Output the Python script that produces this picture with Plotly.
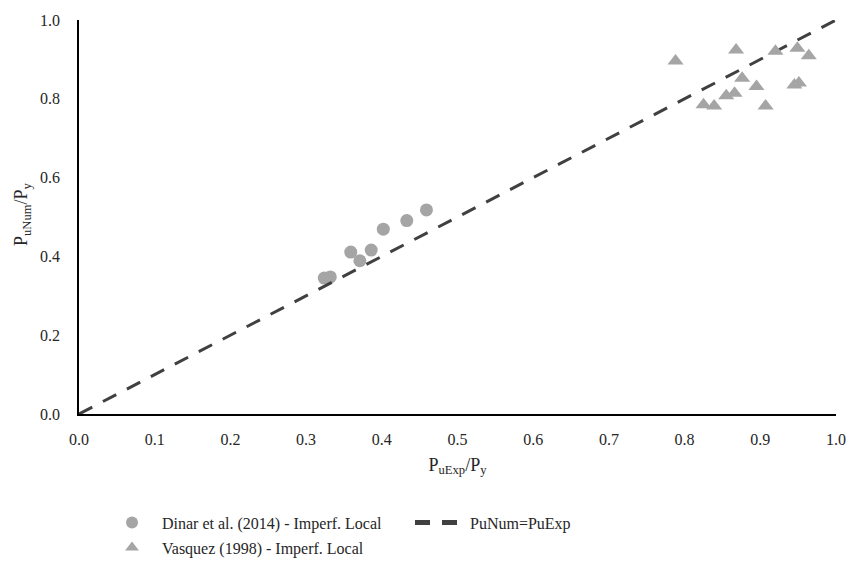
import plotly.graph_objects as go

# Dinar et al. (2014) - Imperf. Local
dinar_x = [0.324, 0.332, 0.359, 0.371, 0.386, 0.402, 0.433, 0.459]
dinar_y = [0.345, 0.348, 0.411, 0.389, 0.416, 0.469, 0.491, 0.518]

# Vasquez (1998) - Imperf. Local
vasq_x = [0.788, 0.868, 0.920, 0.949, 0.964, 0.876, 0.895, 0.866, 0.855, 0.825, 0.839, 0.907, 0.945, 0.951]
vasq_y = [0.896, 0.924, 0.921, 0.928, 0.909, 0.852, 0.831, 0.814, 0.808, 0.785, 0.782, 0.782, 0.835, 0.840]

# PuNum = PuExp reference line
line_x = [0.0, 1.0]
line_y = [0.0, 1.0]

x_ticks = [0.0, 0.1, 0.2, 0.3, 0.4, 0.5, 0.6, 0.7, 0.8, 0.9, 1.0]
y_ticks = [0.0, 0.2, 0.4, 0.6, 0.8, 1.0]

FONT = "Liberation Serif"
GRAY = "#A5A5A5"
TXT = "#262626"

fig = go.Figure()
fig.add_trace(go.Scatter(
    x=dinar_x, y=dinar_y, mode="markers",
    name="Dinar et al. (2014) - Imperf. Local",
    marker=dict(symbol="circle", size=13, color=GRAY),
    legend="legend",
))
fig.add_trace(go.Scatter(
    x=line_x, y=line_y, mode="lines",
    name="PuNum=PuExp",
    line=dict(color="#404040", width=3, dash="15px,12px"),
    legend="legend",
))
fig.add_trace(go.Scatter(
    x=vasq_x, y=vasq_y, mode="markers",
    name="Vasquez (1998) - Imperf. Local",
    marker=dict(symbol="triangle-up", size=14, color=GRAY),
    legend="legend2",
))

leg_common = dict(
    orientation="h", x=0.0304, xanchor="left", yanchor="top", yref="container",
    entrywidth=243, entrywidthmode="pixels", itemwidth=50,
    font=dict(family=FONT, size=16, color=TXT),
    itemsizing="constant", bgcolor="rgba(0,0,0,0)",
)

fig.update_layout(
    width=848, height=568,
    margin=dict(l=79, r=12, t=20, b=154, autoexpand=False),
    paper_bgcolor="white", plot_bgcolor="white",
    font=dict(family=FONT, size=16, color=TXT),
    showlegend=True,
    legend=dict(y=0.110, **leg_common),
    legend2=dict(y=0.066, **leg_common),
    xaxis=dict(
        range=[0, 1.0], tickvals=x_ticks, ticktext=[f"{v:.1f}" for v in x_ticks],
        showgrid=False, zeroline=False, showline=True, linecolor="black", linewidth=1.5,
        ticks="outside", ticklen=10, tickcolor="rgba(0,0,0,0)", automargin=False,
        tickfont=dict(family=FONT, size=16, color=TXT),
        title=dict(text="P<sub>uExp</sub>/P<sub>y</sub>", font=dict(size=18, family=FONT, color=TXT), standoff=11),
    ),
    yaxis=dict(
        range=[0, 1.0], tickvals=y_ticks, ticktext=[f"{v:.1f}" for v in y_ticks],
        showgrid=False, zeroline=False, showline=True, linecolor="black", linewidth=1.5,
        ticks="outside", ticklen=14, tickcolor="rgba(0,0,0,0)", automargin=False,
        tickfont=dict(family=FONT, size=16, color=TXT),
    ),
    annotations=[dict(
        text="P<sub>uNum</sub>/P<sub>y</sub>", textangle=-90,
        xref="paper", yref="paper", x=-0.0753, y=0.5076,
        xanchor="center", yanchor="middle", showarrow=False,
        font=dict(size=18, family=FONT, color=TXT),
    )],
)

fig.write_html("out.html")
